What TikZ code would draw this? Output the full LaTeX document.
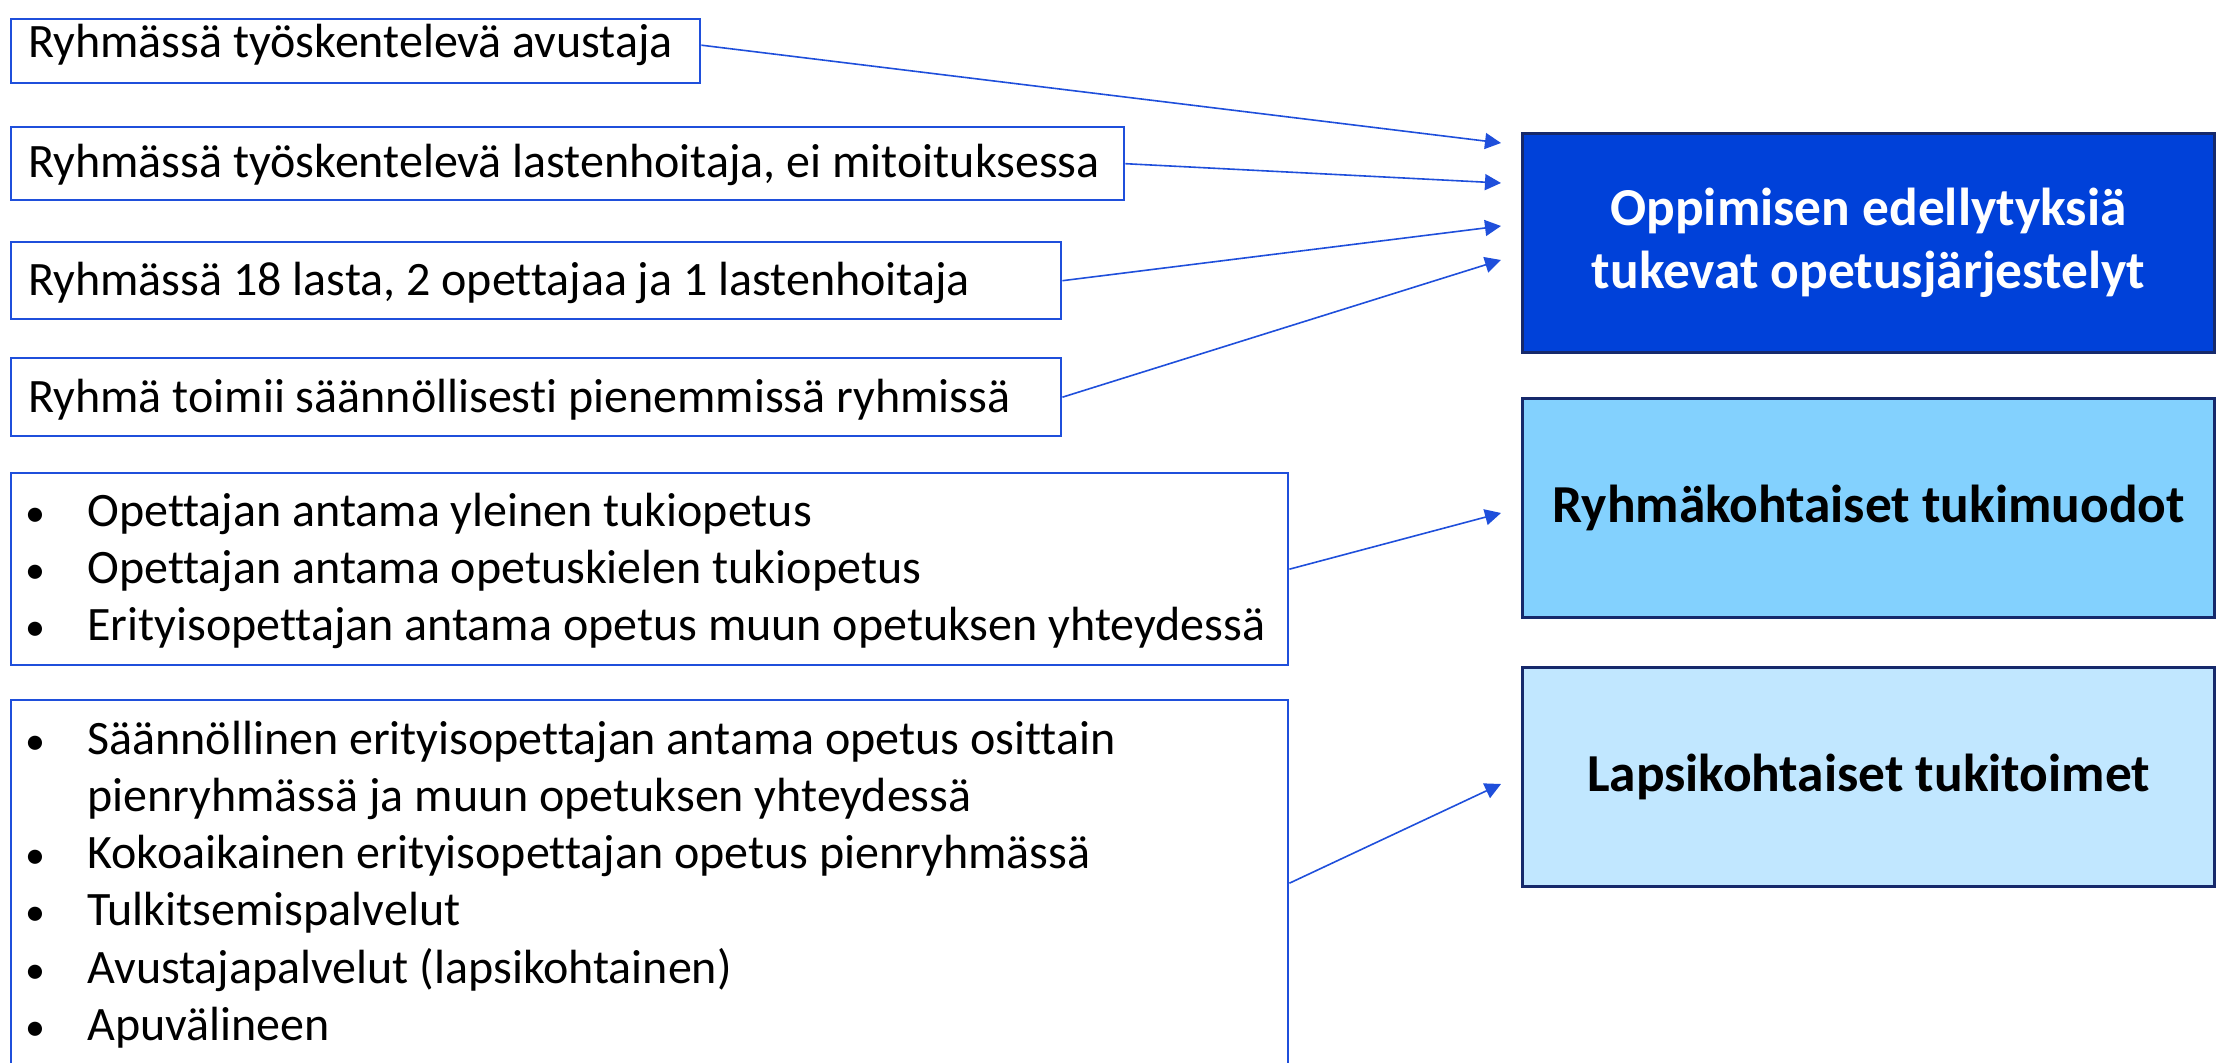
\documentclass[tikz,border=0pt]{standalone}
\usepackage{fontspec}
\setmainfont{Carlito}[Ligatures=NoCommon]
\usetikzlibrary{arrows.meta}
\definecolor{lborder}{HTML}{1F4FDB}
\definecolor{arrowc}{HTML}{1F4FDB}
\definecolor{navy}{HTML}{16296B}
\definecolor{fillA}{HTML}{0041D9}
\definecolor{fillB}{HTML}{83D1FE}
\definecolor{fillC}{HTML}{C1E7FF}
\begin{document}
\begin{tikzpicture}[x=0.5pt,y=-0.5pt,
 lbox/.style={draw=lborder, line width=1.2pt, rectangle, inner sep=0pt, anchor=north west},
 ltext/.style={anchor=base west, inner sep=0pt, font=\fontsize{24pt}{28.5pt}\selectfont},
 bul/.style={anchor=base, inner sep=0pt, font=\fontsize{20pt}{24pt}\selectfont},
 rbox/.style={draw=navy, line width=1.5pt, rectangle, minimum width=346pt, minimum height=109.5pt, anchor=north west, align=center, font=\fontsize{26.7pt}{31.5pt}\selectfont\bfseries},
 conn/.style={draw=arrowc, line width=0.8pt, -{Triangle[length=8pt,width=8pt]}}
]
\useasboundingbox (0,0) rectangle (2224,1063);
% left boxes
\node[lbox, minimum width=344.5pt, minimum height=32pt] (b1) at (10,18) {};
\node[ltext] (b1t) at (28,58) {Ryhmässä työskentelevä avustaja};
\node[lbox, minimum width=556.5pt, minimum height=36.5pt] (b2) at (10,126) {};
\node[ltext] (b2t) at (28,178) {Ryhmässä työskentelevä lastenhoitaja, ei mitoituksessa};
\node[lbox, minimum width=525pt, minimum height=38.5pt] (b3) at (10,241) {};
\node[ltext] (b3t) at (28,296) {Ryhmässä 18 lasta, 2 opettajaa ja 1 lastenhoitaja};
\node[lbox, minimum width=525pt, minimum height=39pt] (b4) at (10,357) {};
\node[ltext] (b4t) at (28,413) {Ryhmä toimii säännöllisesti pienemmissä ryhmissä};
\node[lbox, minimum width=638.5pt, minimum height=96pt] (b5) at (10,472) {};
\node[bul] (b5a) at (35,527) {•};
\node[ltext] (b5at) at (87,527) {Opettajan antama yleinen tukiopetus};
\node[bul] (b5b) at (35,584) {•};
\node[ltext] (b5bt) at (87,584) {Opettajan antama opetuskielen tukiopetus};
\node[bul] (b5c) at (35,641) {•};
\node[ltext] (b5ct) at (87,641) {Erityisopettajan antama opetus muun opetuksen yhteydessä};
\node[lbox, minimum width=638.5pt, minimum height=183pt] (b6) at (10,699) {};
\node[bul] (b6a) at (35,755) {•};
\node[ltext] (b6at) at (87,755) {Säännöllinen erityisopettajan antama opetus osittain};
\node[ltext] (b6at2) at (87,812) {pienryhmässä ja muun opetuksen yhteydessä};
\node[bul] (b6b) at (35,869) {•};
\node[ltext] (b6bt) at (87,869) {Kokoaikainen erityisopettajan opetus pienryhmässä};
\node[bul] (b6c) at (35,926) {•};
\node[ltext] (b6ct) at (87,926) {Tulkitsemispalvelut};
\node[bul] (b6d) at (35,983) {•};
\node[ltext] (b6dt) at (87,983) {Avustajapalvelut (lapsikohtainen)};
\node[bul] (b6e) at (35,1040) {•};
\node[ltext] (b6et) at (87,1040) {Apuvälineen};
% right boxes
\node[rbox, fill=fillA, text=white] (t1) at (1521,132) {Oppimisen edellytyksiä\\tukevat opetusjärjestelyt};
\node[rbox, fill=fillB, text=black] (t2) at (1521,397) {Ryhmäkohtaiset tukimuodot};
\node[rbox, fill=fillC, text=black] (t3) at (1521,666) {Lapsikohtaiset tukitoimet};
% arrow tips
\coordinate (p1) at (1501,143);
\coordinate (p2) at (1501,183);
\coordinate (p3) at (1501,226);
\coordinate (p4) at (1501,260);
\coordinate (p5) at (1501,513);
\coordinate (p6) at (1501,784);
\draw[conn] ([yshift=3pt]b1.east) -- (p1);
\draw[conn] (b2.east) -- (p2);
\draw[conn] (b3.east) -- (p3);
\draw[conn] (b4.east) -- (p4);
\draw[conn] (b5.east) -- (p5);
\draw[conn] (b6.east) -- (p6);
\end{tikzpicture}
\end{document}
